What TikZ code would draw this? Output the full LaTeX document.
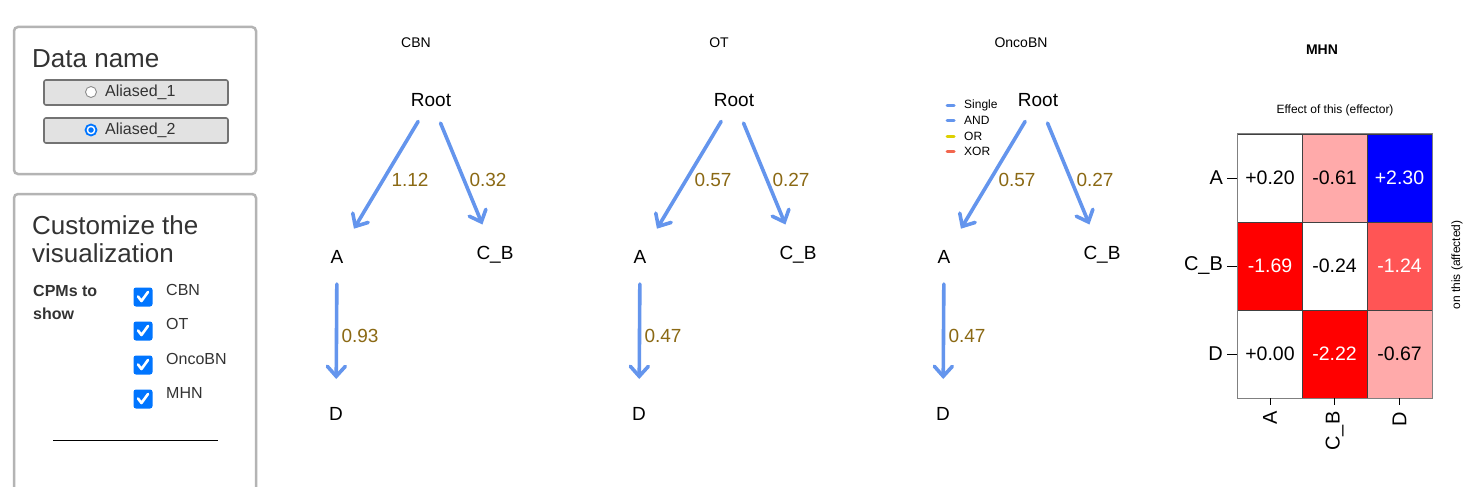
\documentclass[tikz,border=0pt]{standalone}
\usepackage{fontspec}
\setmainfont{Liberation Sans}
\usetikzlibrary{arrows.meta}
\definecolor{cpmblue}{HTML}{6495ED}
\definecolor{lblbrown}{HTML}{8B6914}
\definecolor{boxgray}{HTML}{B4B4B4}
\definecolor{btngray}{HTML}{E2E2E2}
\definecolor{chkblue}{HTML}{0075FF}
\definecolor{txtdark}{HTML}{333333}
\definecolor{orcol}{HTML}{DDD000}
\definecolor{xorcol}{HTML}{F2664E}
\definecolor{pinkcell}{HTML}{FFAAAA}
\definecolor{midred}{HTML}{FF5555}
\newcommand{\fsz}[1]{\fontsize{#1}{#1}\selectfont}
\tikzset{
  panelbox/.style={draw=boxgray, line width=2.5pt, rounded corners=4pt},
  btn/.style={draw=gray!90!black, fill=btngray, line width=1.6pt, rounded corners=2pt},
  gnode/.style={font=\fsz{19}, text=black, inner sep=0pt},
  elabel/.style={font=\fsz{19}, text=lblbrown, inner sep=0pt},
  ptitle/.style={font=\fsz{14}, inner sep=0pt},
  cpmarrow/.style={draw=cpmblue, line width=3.6pt, line cap=round,
     -{Straight Barb[length=10pt,width=18pt,line cap=round]}},
  chk/.style={fill=chkblue, rounded corners=2.5pt, minimum size=19pt, inner sep=0pt},
  chklabel/.style={font=\fsz{16}, text=txtdark, anchor=west, inner sep=0pt},
  hcell/.style={draw=black!75, line width=0.8pt, minimum width=65pt, minimum height=88pt, inner sep=0pt, font=\fsz{19.5}},
  leg/.style={line width=3pt, line cap=round},
  legtxt/.style={font=\fsz{12}, anchor=west, inner sep=0pt}
}
\newcommand{\cpmpanel}[7]{%
 \begin{scope}[xshift=#2pt]
  \node[ptitle] (#1title) at (#7,43) {#3};
  \node[gnode] (#1root) at (431,100) {Root};
  \node[gnode] (#1a) at (337,257) {A};
  \node[gnode] (#1cb) at (495,255) {C\_B};
  \node[gnode] (#1d) at (336,414) {D};
  \draw[cpmarrow, shorten <=25pt, shorten >=33pt] (#1root.center) -- (#1a.center);
  \draw[cpmarrow, shorten <=25pt, shorten >=33pt] (#1root.center) -- (#1cb.center);
  \draw[cpmarrow, shorten <=27pt, shorten >=35pt] (#1a.center) -- (#1d.center);
  \node[elabel] (#1l1) at (410,180) {#4};
  \node[elabel] (#1l2) at (488,180) {#5};
  \node[elabel] (#1l3) at (360,336) {#6};
 \end{scope}}
\newcommand{\checkmk}[2]{%
  \node[chk] (#1) at #2 {};
  \draw[white, line width=2.6pt, line cap=round, line join=round]
    ([shift={(-5pt,0.5pt)}]#1.center) -- ([shift={(-1.5pt,-4pt)}]#1.center) -- ([shift={(5pt,5pt)}]#1.center);}
\begin{document}
\begin{tikzpicture}[x=1pt,y=-1pt]
\useasboundingbox[fill=white] (0,0) rectangle (1473,487);
% ---------- left panel ----------
\draw[panelbox] (14,27) rectangle (256,174);
\node[font=\fsz{26}, text=txtdark, anchor=base west, inner sep=0pt] (dataname) at (32,68) {Data name};
\node[btn, minimum width=184pt, minimum height=25pt] (btn1) at (136,92.5) {};
\node[btn, minimum width=184pt, minimum height=25pt] (btn2) at (136,130.5) {};
\node[draw=gray!90, fill=white, circle, minimum size=11pt, inner sep=0pt, line width=0.9pt] (rad1) at (91,92) {};
\node[draw=chkblue, fill=white, circle, minimum size=11pt, inner sep=0pt, line width=1.8pt] (rad2) at (91,130) {};
\node[fill=chkblue, circle, minimum size=5.5pt, inner sep=0pt] (rad2dot) at (91,130) {};
\node[font=\fsz{16}, text=txtdark, anchor=west, inner sep=0pt] (al1) at (105,92) {Aliased\_1};
\node[font=\fsz{16}, text=txtdark, anchor=west, inner sep=0pt] (al2) at (105,130) {Aliased\_2};
\draw[panelbox] (14,194) rectangle (256,500);
\node[font=\fsz{26}, text=txtdark, anchor=base west, inner sep=0pt] (cust1) at (32,234) {Customize the};
\node[font=\fsz{26}, text=txtdark, anchor=base west, inner sep=0pt] (cust2) at (32,262) {visualization};
\node[font=\bfseries\fsz{16}, text=txtdark, anchor=base west, inner sep=0pt] (cpm1) at (33,296) {CPMs to};
\node[font=\bfseries\fsz{16}, text=txtdark, anchor=base west, inner sep=0pt] (cpm2) at (33,319) {show};
\checkmk{ck1}{(143,297)}
\checkmk{ck2}{(143,331)}
\checkmk{ck3}{(143,365)}
\checkmk{ck4}{(143,399)}
\node[chklabel] (ckl1) at (166,290) {CBN};
\node[chklabel] (ckl2) at (166,324) {OT};
\node[chklabel] (ckl3) at (166,359) {OncoBN};
\node[chklabel] (ckl4) at (166,393) {MHN};
\coordinate (hl1) at (53,440);
\coordinate (hl2) at (218,440);
\draw[black, line width=1pt] (hl1) -- (hl2);
% ---------- CPM panels ----------
\cpmpanel{cbn}{0}{CBN}{1.12}{0.32}{0.93}{416}
\cpmpanel{ot}{303}{OT}{0.57}{0.27}{0.47}{416}
\cpmpanel{onc}{607}{OncoBN}{0.57}{0.27}{0.47}{414}
% legend
\coordinate (lg1a) at (947,105); \coordinate (lg1b) at (954,105);
\coordinate (lg2a) at (947,120); \coordinate (lg2b) at (954,120);
\coordinate (lg3a) at (947,136); \coordinate (lg3b) at (954,136);
\coordinate (lg4a) at (947,151); \coordinate (lg4b) at (954,151);
\draw[leg, cpmblue] (lg1a) -- (lg1b);
\draw[leg, cpmblue] (lg2a) -- (lg2b);
\draw[leg, orcol] (lg3a) -- (lg3b);
\draw[leg, xorcol] (lg4a) -- (lg4b);
\node[legtxt] (lgt1) at (964,105) {Single};
\node[legtxt] (lgt2) at (964,120) {AND};
\node[legtxt] (lgt3) at (964,136) {OR};
\node[legtxt] (lgt4) at (964,151) {XOR};
% ---------- MHN ----------
\node[font=\bfseries\fsz{14}, inner sep=0pt] (mhntitle) at (1322,50) {MHN};
\node[font=\fsz{12}, inner sep=0pt] (effector) at (1335,110) {Effect of this (effector)};
\node[hcell, fill=white] (c11) at (1270,178) {+0.20};
\node[hcell, fill=pinkcell] (c12) at (1334.5,178) {-0.61};
\node[hcell, fill=blue, text=white] (c13) at (1399.5,178) {+2.30};
\node[hcell, fill=red, text=white] (c21) at (1270,266) {-1.69};
\node[hcell, fill=white] (c22) at (1334.5,266) {-0.24};
\node[hcell, fill=midred, text=white] (c23) at (1399.5,266) {-1.24};
\node[hcell, fill=white] (c31) at (1270,354) {+0.00};
\node[hcell, fill=red, text=white] (c32) at (1334.5,354) {-2.22};
\node[hcell, fill=pinkcell] (c33) at (1399.5,354) {-0.67};
\draw[gray, line width=0.8pt] (c11.north west) rectangle (c33.south east);
% row ticks and labels
\foreach \r/\lab in {1/A,2/C\_B,3/D}{
  \coordinate (rt\r) at ([xshift=-10pt]c\r1.west);
  \draw[black, line width=0.8pt] (rt\r) -- (c\r1.west);
  \node[font=\fsz{20}, anchor=east, inner sep=0pt] (rl\r) at ([xshift=-4pt]rt\r) {\lab};
}
\foreach \c/\lab in {1/A,2/C\_B,3/D}{
  \coordinate (ct\c) at ([yshift=-7pt]c3\c.south);
  \draw[black, line width=0.8pt] (c3\c.south) -- (ct\c);
  \node[font=\fsz{20}, rotate=90, anchor=east, inner sep=0pt] (cl\c) at ([yshift=-6pt]ct\c) {\lab};
}
\node[font=\fsz{12}, rotate=90, inner sep=0pt] (affected) at (1457,265) {on this (affected)};
\end{tikzpicture}
\end{document}
